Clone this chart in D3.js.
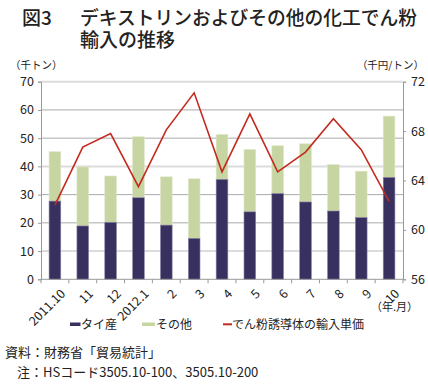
<!DOCTYPE html>
<html><head><meta charset="utf-8">
<script src="https://cdn.jsdelivr.net/npm/d3@7"></script>
<style>
body{margin:0;background:#fff;}
svg{display:block;}
text{font-family:"Noto Sans CJK JP","Noto Sans",sans-serif;fill:#222;}
</style></head>
<body>
<svg id="c" width="428" height="390"></svg>
<script>
const categories = ["2011.10","11","12","2012.1","2","3","4","5","6","7","8","9","10"];
const thai = [27.7,18.9,20.2,28.9,19.2,14.5,35.4,23.9,30.4,27.4,24.2,21.9,36.1];
const other = [17.5,20.9,16.4,21.6,17.1,21.1,15.9,22.1,16.9,20.6,16.4,16.4,21.7];
const price = [62.0,66.7,67.8,63.5,68.1,71.1,64.7,69.4,64.7,66.3,69.0,66.5,62.3];
const leftTicks = [0,10,20,30,40,50,60,70];
const rightTicks = [56,60,64,68,72];

const svg = d3.select("#c");
const L = 41, R = 403, T = 81.7, B = 279.3;
const x = d3.scaleBand().domain(categories).range([L, R]).paddingInner(0.58).paddingOuter(0.29);
const xb = d3.scaleBand().domain(categories).range([L, R]);
const yL = d3.scaleLinear().domain([0,70]).range([B, T]);
const yR = d3.scaleLinear().domain([56,72]).range([B, T]);

// title
svg.append("text").attr("x",22).attr("y",24.5).attr("font-size",19).attr("font-weight",500).text("図3");
svg.append("text").attr("x",80).attr("y",24.5).attr("font-size",19).attr("font-weight",500)
  .attr("textLength",337).attr("lengthAdjust","spacingAndGlyphs").text("デキストリンおよびその他の化工でん粉");
svg.append("text").attr("x",80).attr("y",46.5).attr("font-size",19).attr("font-weight",500).text("輸入の推移");

// gridlines
svg.append("g").selectAll("line").data(leftTicks.filter(d=>d>0)).join("line")
  .attr("x1",L).attr("x2",R).attr("y1",d=>yL(d)).attr("y2",d=>yL(d))
  .attr("stroke",d=> (d===70||d===40||d===10)?"#dcdcdc":"#aaaaaa")
  .attr("stroke-width",d=> (d===70||d===40||d===10)?2:1);

// bars
const g = svg.append("g");
categories.forEach((c,i)=>{
  g.append("rect").attr("x",x(c)).attr("width",x.bandwidth())
    .attr("y",yL(thai[i]+other[i])).attr("height",yL(thai[i])-yL(thai[i]+other[i]))
    .attr("fill","#c6d5a2").attr("stroke","#dfe7c8").attr("stroke-width",0.6);
  g.append("rect").attr("x",x(c)).attr("width",x.bandwidth())
    .attr("y",yL(thai[i])).attr("height",B-yL(thai[i]))
    .attr("fill","#38315f").attr("stroke","#8a86a8").attr("stroke-width",0.6);
});

// line
const line = d3.line().x((d,i)=>x(categories[i])+x.bandwidth()/2).y(d=>yR(d));
svg.append("path").datum(price).attr("d",line).attr("fill","none")
  .attr("stroke","#c42a1e").attr("stroke-width",1.6).attr("stroke-linejoin","miter");

// left axis
const axL = svg.append("g").attr("transform",`translate(${L},0)`)
  .call(d3.axisLeft(yL).tickValues(leftTicks).tickSize(3).tickPadding(4).tickFormat(d3.format("d")));
axL.selectAll("text").attr("font-size",12.5).attr("font-family","Liberation Sans, Arial, sans-serif").style("fill","#222");
axL.selectAll("line,path").attr("stroke","#999");

// right axis
const axR = svg.append("g").attr("transform",`translate(${R},0)`)
  .call(d3.axisRight(yR).tickValues(rightTicks).tickSize(3).tickPadding(5));
axR.selectAll("text").attr("font-size",12.5).attr("font-family","Liberation Sans, Arial, sans-serif").style("fill","#222");
axR.selectAll("line,path").attr("stroke","#999");

// bottom axis
const axB = svg.append("g").attr("transform",`translate(0,${B})`);
axB.append("line").attr("x1",L).attr("x2",R).attr("stroke","#999");
axB.selectAll("line.t").data(categories).join("line").attr("class","t")
  .attr("x1",d=>xb(d)).attr("x2",d=>xb(d)).attr("y1",0).attr("y2",4).attr("stroke","#999");
axB.append("line").attr("x1",R).attr("x2",R).attr("y1",0).attr("y2",4).attr("stroke","#999");
axB.selectAll("text").data(categories).join("text")
  .attr("transform",d=>`translate(${x(d)+x.bandwidth()/2+5},9) rotate(-45)`)
  .attr("text-anchor","end").attr("font-size",12.5)
  .attr("font-family","Liberation Sans, Arial, sans-serif").attr("dy","0.7em").text(d=>d);

// unit labels
svg.append("text").attr("x",10).attr("y",69).attr("font-size",10.5).text("（千トン）");
svg.append("text").attr("x",424).attr("y",69).attr("text-anchor","end").attr("font-size",10.5).text("（千円/トン）");
svg.append("text").attr("x",418).attr("y",311).attr("text-anchor","end").attr("font-size",11).text("（年.月）");

// legend
const lg = svg.append("g");
lg.append("rect").attr("x",70).attr("y",322.5).attr("width",10.5).attr("height",3.5).attr("fill","#38315f");
lg.append("text").attr("x",81).attr("y",329).attr("font-size",12).text("タイ産");
lg.append("rect").attr("x",142).attr("y",322.5).attr("width",13).attr("height",3.5).attr("fill","#c6d5a2");
lg.append("text").attr("x",156).attr("y",329).attr("font-size",12).text("その他");
lg.append("line").attr("x1",223).attr("x2",232).attr("y1",324.3).attr("y2",324.3).attr("stroke","#c42a1e").attr("stroke-width",2);
lg.append("text").attr("x",232).attr("y",329).attr("font-size",12).text("でん粉誘導体の輸入単価");

// source
svg.append("text").attr("x",5).attr("y",357).attr("font-size",13).text("資料：財務省「貿易統計」");
svg.append("text").attr("x",17).attr("y",377).attr("font-size",13).text("注：HSコード3505.10-100、3505.10-200");
</script>
</body></html>
